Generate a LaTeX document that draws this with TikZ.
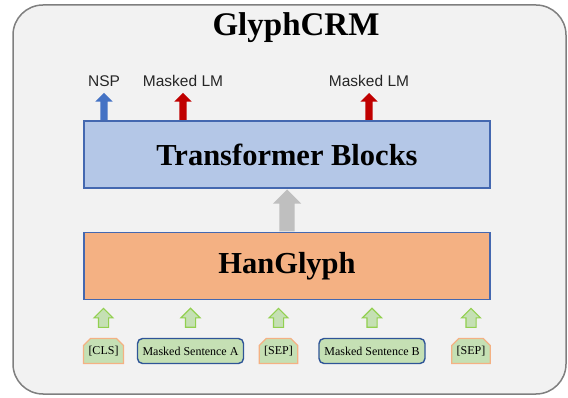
\documentclass[tikz,border=0pt]{standalone}
\usepackage{fontspec}
\setmainfont{Liberation Serif}
\newfontfamily\labelfont{Liberation Sans}
\usetikzlibrary{shapes.arrows, shapes.misc, positioning}

\definecolor{panelgray}{HTML}{F2F2F2}
\definecolor{framegray}{HTML}{7F7F7F}
\definecolor{tfmblue}{HTML}{B4C7E7}
\definecolor{edgeblue}{HTML}{4468B0}
\definecolor{darkblue}{HTML}{2F5597}
\definecolor{glyphorange}{HTML}{F4B183}
\definecolor{nspblue}{HTML}{4472C4}
\definecolor{lmred}{HTML}{C00000}
\definecolor{liftgray}{HTML}{BFBFBF}
\definecolor{tokgreen}{HTML}{C5E0B4}
\definecolor{arrowgreen}{HTML}{92D050}

\tikzset{
  block/.style={draw=edgeblue, line width=1.6pt, minimum width=406pt, minimum height=67pt,
    inner sep=0pt, font=\fontsize{30.5}{36}\selectfont\bfseries},
  headlbl/.style={font=\labelfont\fontsize{15.5}{18}\selectfont, text=black!85, inner sep=1pt},
  uparrow/.style={single arrow, rotate=90, anchor=tail, inner xsep=0pt, single arrow tip angle=90},
  outarrow/.style={uparrow, draw=none, minimum height=27pt, inner ysep=3.5pt, single arrow head extend=5pt},
  inarrow/.style={uparrow, draw=arrowgreen, line width=1.1pt, fill=tokgreen, minimum height=19pt,
    inner ysep=4.5pt, single arrow head extend=4.5pt},
  tagtok/.style={chamfered rectangle, chamfered rectangle corners={north west, north east},
    chamfered rectangle xsep=4pt, draw=glyphorange, line width=1.3pt, fill=tokgreen,
    minimum width=36pt, minimum height=25pt, inner sep=1pt, font=\fontsize{12}{14}\selectfont},
  sentok/.style={rectangle, rounded corners=5pt, draw=darkblue, line width=1.4pt, fill=tokgreen,
    minimum width=106pt, minimum height=25pt, inner sep=1pt, font=\fontsize{12}{14}\selectfont}
}

\begin{document}
\begin{tikzpicture}[x=1pt, y=-1pt]
    \useasboundingbox (0,0) rectangle (568,398);

    % Outer panel
    \draw[fill=panelgray, draw=framegray, line width=1.5pt, rounded corners=30pt] (13,5) rectangle (566,394);
    \node[font=\fontsize{33}{40}\selectfont\bfseries, anchor=base] (title) at (296,36) {GlyphCRM};

    % Main blocks
    \node[block, fill=tfmblue] (tfm) at (287,154.5) {Transformer Blocks};
    \node[block, fill=glyphorange] (han) at (287,266) {HanGlyph};
    \node[uparrow, fill=liftgray, minimum height=42pt, inner ysep=7.5pt, single arrow head extend=6.5pt] (lift) at (han.north) {};

    % Pre-training heads
    \node[headlbl] (nsp) at (104,81) {NSP};
    \node[headlbl] (mlma) at (183,81) {Masked LM};
    \node[headlbl] (mlmb) at (369,81) {Masked LM};
    \node[outarrow, fill=nspblue] (nsparr) at (tfm.north -| nsp) {};
    \node[outarrow, fill=lmred] (mlmaarr) at (tfm.north -| mlma) {};
    \node[outarrow, fill=lmred] (mlmbarr) at (tfm.north -| mlmb) {};

    % Input tokens
    \node[tagtok] (cls) at (103.5,351) {[CLS]};
    \node[sentok] (senta) at (190.5,351) {Masked Sentence A};
    \node[tagtok] (sepa) at (278.5,351) {[SEP]};
    \node[sentok] (sentb) at (372,351) {Masked Sentence B};
    \node[tagtok] (sepb) at (471,351) {[SEP]};

    % Token arrows into HanGlyph
    \foreach \tok in {cls, senta, sepa, sentb, sepb} {
        \node[inarrow] (\tok arr) at ([yshift=10pt]\tok.north) {};
    }
\end{tikzpicture}
\end{document}
